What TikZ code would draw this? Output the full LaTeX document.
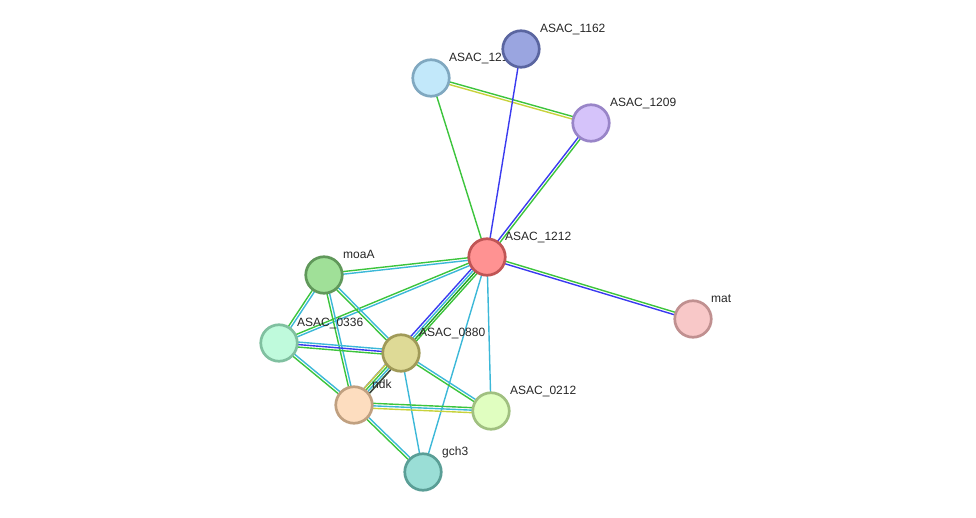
\documentclass[tikz,border=0pt]{standalone}
\usepackage{fontspec}
\setmainfont{Liberation Sans}
\usetikzlibrary{calc}
\definecolor{eg}{HTML}{3CC43C}
\definecolor{edg}{HTML}{1FA01F}
\definecolor{eb}{HTML}{3A3AF0}
\definecolor{ec}{HTML}{3CB8D8}
\definecolor{ey}{HTML}{C8D23C}
\definecolor{ek}{HTML}{404040}
\definecolor{fa}{HTML}{9AA5E0}\definecolor{da}{HTML}{5A65A0}
\definecolor{fb}{HTML}{C2E8FA}\definecolor{db}{HTML}{80A8C0}
\definecolor{fc}{HTML}{D5C3FA}\definecolor{dc}{HTML}{9985C8}
\definecolor{fd}{HTML}{FF9292}\definecolor{dd}{HTML}{C05555}
\definecolor{fe}{HTML}{A0E098}\definecolor{de}{HTML}{60985A}
\definecolor{ff}{HTML}{BFFADC}\definecolor{df}{HTML}{80C0A0}
\definecolor{fg}{HTML}{DEDA96}\definecolor{dg}{HTML}{A09A58}
\definecolor{fh}{HTML}{FDDDBF}\definecolor{dh}{HTML}{C0A080}
\definecolor{fi}{HTML}{E0FEC0}\definecolor{di}{HTML}{A0C080}
\definecolor{fj}{HTML}{9ADED6}\definecolor{dj}{HTML}{5A9E96}
\definecolor{fk}{HTML}{F8C8C8}\definecolor{dk}{HTML}{C09090}
\newcommand\sline[4]{\draw[#4] ($(#1)!#3!90:(#2)$) -- ($(#2)!#3!-90:(#1)$);}
\tikzset{
  prot/.style 2 args={circle, minimum size=36.5pt, inner sep=0pt, line width=2.7pt, fill=#1, draw=#2},
  lab/.style={anchor=base west, font=\fontsize{12}{14}\selectfont, text=black!85, inner sep=0pt},
  edge/.style={line width=1.4pt}
}
\begin{document}
\begin{tikzpicture}[x=1pt,y=-1pt]
\useasboundingbox (0,0) rectangle (976,518);
\path (521,49) coordinate (c1162)
      (431,78) coordinate (c121)
      (591,123) coordinate (c1209)
      (487,257) coordinate (c1212)
      (324,275) coordinate (cmoaA)
      (279,343) coordinate (c0336)
      (401,353) coordinate (c0880)
      (354,405) coordinate (cndk)
      (491,411) coordinate (c0212)
      (423,472) coordinate (cgch3)
      (693,319) coordinate (cmat);
\begin{scope}[edge]
\sline{c121}{c1209}{-1.3pt}{ey}
\sline{c121}{c1209}{1.3pt}{eg}
\sline{c121}{c1212}{0pt}{eg}
\sline{c1162}{c1212}{0pt}{eb}
\sline{c1209}{c1212}{-1.3pt}{eb}
\sline{c1209}{c1212}{1.3pt}{eg}
\sline{c1212}{cmat}{-1.3pt}{eb}
\sline{c1212}{cmat}{1.3pt}{eg}
\sline{c1212}{cmoaA}{-1.3pt}{eg}
\sline{c1212}{cmoaA}{1.3pt}{ec}
\sline{c1212}{c0336}{-1.3pt}{eg}
\sline{c1212}{c0336}{1.3pt}{ec}
\sline{c1212}{cndk}{3.6pt}{eg}
\sline{c1212}{cndk}{-3.6pt}{eb}
\sline{c1212}{c0880}{1.2pt}{edg}
\sline{c1212}{c0880}{-1.2pt}{ec}
\sline{c1212}{c0212}{0pt}{ec}
\sline{c1212}{cgch3}{0pt}{ec}
\sline{cmoaA}{c0336}{-1.3pt}{eg}
\sline{cmoaA}{c0336}{1.3pt}{ec}
\sline{cmoaA}{c0880}{-1.3pt}{eg}
\sline{cmoaA}{c0880}{1.3pt}{ec}
\sline{cmoaA}{cndk}{-1.3pt}{eg}
\sline{cmoaA}{cndk}{1.3pt}{ec}
\sline{c0336}{c0880}{-2.5pt}{eg}
\sline{c0336}{c0880}{0pt}{eb}
\sline{c0336}{c0880}{2.5pt}{ec}
\sline{c0336}{cndk}{-1.3pt}{eg}
\sline{c0336}{cndk}{1.3pt}{ec}
\sline{c0880}{cndk}{-3.6pt}{ey}
\sline{c0880}{cndk}{-1.2pt}{eg}
\sline{c0880}{cndk}{1.2pt}{ec}
\sline{c0880}{cndk}{3.6pt}{ek}
\sline{c0880}{c0212}{-1.3pt}{eg}
\sline{c0880}{c0212}{1.3pt}{ec}
\sline{c0880}{cgch3}{0pt}{ec}
\sline{cndk}{c0212}{-2.5pt}{ey}
\sline{cndk}{c0212}{0pt}{ec}
\sline{cndk}{c0212}{2.5pt}{eg}
\sline{cndk}{cgch3}{-1.3pt}{eg}
\sline{cndk}{cgch3}{1.3pt}{ec}
\end{scope}
\node[lab] (l121) at ($(c121)+(18,-16.5)$) {ASAC\_121};
\node[prot={fa}{da}] (n1162) at (c1162) {};
\node[prot={fb}{db}] (n121) at (c121) {};
\node[prot={fc}{dc}] (n1209) at (c1209) {};
\node[prot={fd}{dd}] (n1212) at (c1212) {};
\node[prot={fe}{de}] (nmoaA) at (cmoaA) {};
\node[prot={ff}{df}] (n0336) at (c0336) {};
\node[prot={fg}{dg}] (n0880) at (c0880) {};
\node[prot={fh}{dh}] (nndk) at (cndk) {};
\node[prot={fi}{di}] (n0212) at (c0212) {};
\node[prot={fj}{dj}] (ngch3) at (cgch3) {};
\node[prot={fk}{dk}] (nmat) at (cmat) {};
\node[lab] (l1162) at ($(c1162)+(19,-16.5)$) {ASAC\_1162};
\node[lab] (l1209) at ($(c1209)+(19,-16.5)$) {ASAC\_1209};
\node[lab] (l1212) at ($(c1212)+(18,-16.5)$) {ASAC\_1212};
\node[lab] (lmoaA) at ($(cmoaA)+(19,-16.5)$) {moaA};
\node[lab] (l0336) at ($(c0336)+(18,-16.5)$) {ASAC\_0336};
\node[lab] (l0880) at ($(c0880)+(18,-16.5)$) {ASAC\_0880};
\node[lab] (lndk) at ($(cndk)+(18,-16.5)$) {ndk};
\node[lab] (l0212) at ($(c0212)+(19,-16.5)$) {ASAC\_0212};
\node[lab] (lgch3) at ($(cgch3)+(19,-16.5)$) {gch3};
\node[lab] (lmat) at ($(cmat)+(18,-16.5)$) {mat};
\end{tikzpicture}
\end{document}
